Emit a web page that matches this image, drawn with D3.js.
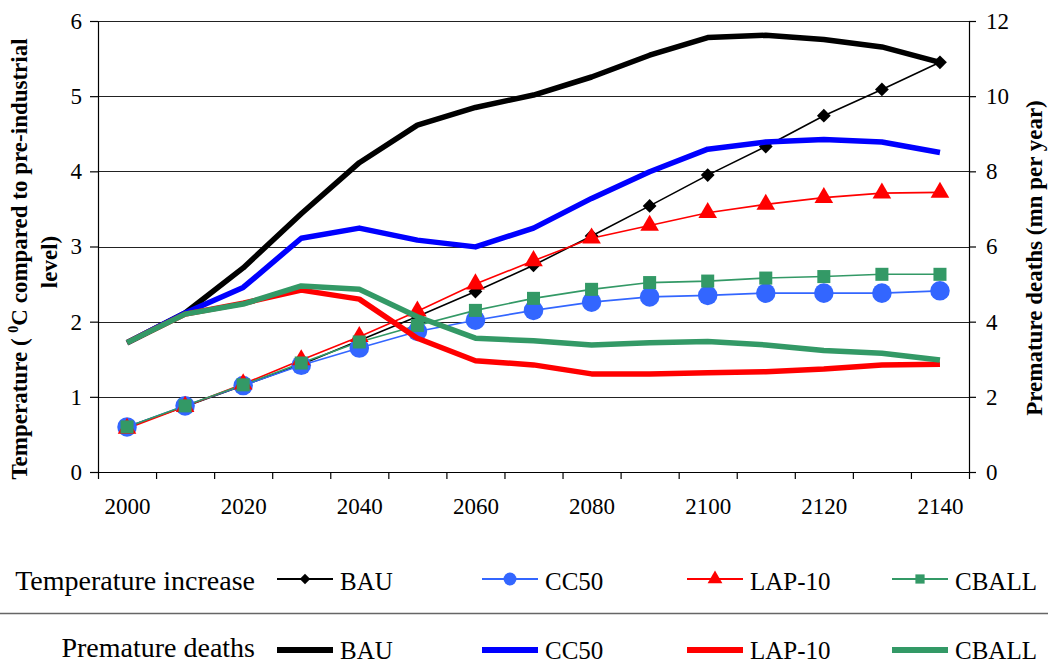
<!DOCTYPE html>
<html>
<head>
<meta charset="utf-8">
<script src="https://cdn.jsdelivr.net/npm/d3@7"></script>
<style>
  html, body { margin: 0; padding: 0; background: #fff; }
  svg { display: block; }
  svg text { font-family: "Liberation Serif", "Times New Roman", serif; fill: #000; }
</style>
</head>
<body>
<svg id="chart" width="1048" height="665"></svg>
<script>
// Years on the category axis
const years = [2000, 2010, 2020, 2030, 2040, 2050, 2060, 2070, 2080, 2090, 2100, 2110, 2120, 2130, 2140];
const yearLabels = [2000, 2020, 2040, 2060, 2080, 2100, 2120, 2140];

// Temperature increase (°C above pre-industrial), left axis
const tempBAU   = [0.60, 0.87, 1.15, 1.43, 1.75, 2.07, 2.40, 2.75, 3.14, 3.54, 3.95, 4.33, 4.74, 5.09, 5.45];
const tempCC50  = [0.60, 0.88, 1.15, 1.42, 1.65, 1.87, 2.02, 2.15, 2.26, 2.33, 2.35, 2.38, 2.38, 2.38, 2.41];
const tempLAP10 = [0.58, 0.87, 1.17, 1.49, 1.80, 2.14, 2.50, 2.81, 3.11, 3.28, 3.45, 3.56, 3.65, 3.71, 3.72];
const tempCBALL = [0.60, 0.88, 1.16, 1.45, 1.73, 1.95, 2.15, 2.31, 2.43, 2.52, 2.54, 2.58, 2.60, 2.63, 2.63];

// Premature deaths (million per year), right axis
const deathsBAU   = [3.44, 4.23, 5.43, 6.87, 8.23, 9.23, 9.70, 10.03, 10.51, 11.09, 11.56, 11.62, 11.51, 11.31, 10.90];
const deathsCC50  = [3.44, 4.23, 4.91, 6.22, 6.49, 6.17, 5.99, 6.49, 7.28, 7.99, 8.59, 8.78, 8.85, 8.78, 8.50];
const deathsLAP10 = [3.44, 4.20, 4.49, 4.84, 4.60, 3.56, 2.96, 2.85, 2.61, 2.61, 2.64, 2.67, 2.74, 2.85, 2.87];
const deathsCBALL = [3.44, 4.20, 4.47, 4.95, 4.86, 4.13, 3.56, 3.49, 3.38, 3.44, 3.47, 3.38, 3.23, 3.16, 2.98];

const leftTicks  = [0, 1, 2, 3, 4, 5, 6];
const rightTicks = [0, 2, 4, 6, 8, 10, 12];

const scenarioNames = ["BAU", "CC50", "LAP-10", "CBALL"];
const thinColors  = ["#000000", "#3366FF", "#FF0000", "#339966"];
const thickColors = ["#000000", "#0000FF", "#FF0000", "#339966"];
// BAU uses a square turned 45 degrees (an even diamond)
const markerShapes = [d3.symbolSquare, d3.symbolCircle, d3.symbolTriangle, d3.symbolSquare];
const markerRotate = [45, 0, 0, 0];
const markerSizes  = [95, 300, 150, 170];
const legendMarkerSizes = [55, 130, 95, 85];

const tempSeries   = [tempBAU, tempCC50, tempLAP10, tempCBALL];
const deathsSeries = [deathsBAU, deathsCC50, deathsLAP10, deathsCBALL];

// Plot frame
const plotLeft = 98, plotRight = 969, plotTop = 21, plotBottom = 472;

const svg = d3.select("#chart");

const x  = d3.scaleLinear().domain([1995, 2145]).range([plotLeft, plotRight]);
const yL = d3.scaleLinear().domain([0, 6]).range([plotBottom, plotTop]);
const yR = d3.scaleLinear().domain([0, 12]).range([plotBottom, plotTop]);

// Horizontal gridlines
svg.append("g")
  .selectAll("line")
  .data(leftTicks.filter(d => d > 0))
  .join("line")
  .attr("x1", plotLeft).attr("x2", plotRight)
  .attr("y1", d => Math.round(yL(d)) + 0.5).attr("y2", d => Math.round(yL(d)) + 0.5)
  .attr("stroke", "#222").attr("stroke-width", 1);

// Axes
const serif = "'Liberation Serif', 'Times New Roman', serif";
const styleAxis = g => {
  g.attr("font-family", serif).attr("font-size", 23);
  g.selectAll("path.domain").attr("stroke", "#000").attr("stroke-width", 1.2);
  g.selectAll(".tick line").attr("stroke", "#000").attr("stroke-width", 1.2);
  g.selectAll("text").style("font-family", serif).style("font-size", "23px").attr("fill", "#000");
};

svg.append("g")
  .attr("transform", `translate(${plotLeft},0)`)
  .call(d3.axisLeft(yL).tickValues(leftTicks).tickFormat(d3.format("d"))
    .tickSize(8).tickPadding(8).tickSizeOuter(0))
  .call(styleAxis);

svg.append("g")
  .attr("transform", `translate(${plotRight},0)`)
  .call(d3.axisRight(yR).tickValues(rightTicks).tickFormat(d3.format("d"))
    .tickSize(7).tickPadding(10).tickSizeOuter(0))
  .call(styleAxis);

// Category boundary ticks
svg.append("g")
  .attr("transform", `translate(0,${plotBottom})`)
  .call(d3.axisBottom(x).tickValues(d3.range(1995, 2146, 10)).tickSize(7).tickFormat("").tickSizeOuter(0))
  .call(styleAxis);

// Year labels
svg.append("g")
  .attr("transform", `translate(0,${plotBottom})`)
  .call(d3.axisBottom(x).tickValues(yearLabels).tickSize(0).tickPadding(26).tickFormat(d3.format("d")))
  .call(g => g.select("path.domain").remove())
  .call(styleAxis);

// Axis titles
const leftTitle = svg.append("g").attr("transform", "translate(27,259) rotate(-90)")
  .append("text")
  .attr("text-anchor", "middle")
  .attr("font-weight", "bold").attr("font-size", 23);
leftTitle.append("tspan").text("Temperature ( ");
leftTitle.append("tspan").attr("font-size", 14).attr("dy", -9).text("0");
leftTitle.append("tspan").attr("dy", 9).text("C compared to pre-industrial");

svg.append("g").attr("transform", "translate(57,262) rotate(-90)")
  .append("text")
  .attr("text-anchor", "middle")
  .attr("font-weight", "bold").attr("font-size", 23)
  .text("level)");

svg.append("g").attr("transform", "translate(1042,258) rotate(-90)")
  .append("text")
  .attr("text-anchor", "middle")
  .attr("font-weight", "bold").attr("font-size", 23)
  .text("Premature deaths (mn per year)");

// Temperature series: thin lines with markers
tempSeries.forEach((vals, i) => {
  const pts = years.map((yr, j) => [x(yr), yL(vals[j])]);
  svg.append("path")
    .attr("d", d3.line()(pts))
    .attr("fill", "none")
    .attr("stroke", thinColors[i])
    .attr("stroke-width", 1.6);
});
tempSeries.forEach((vals, i) => {
  svg.append("g").selectAll("path")
    .data(years.map((yr, j) => [x(yr), yL(vals[j])]))
    .join("path")
    .attr("transform", d => `translate(${d[0]},${d[1]}) rotate(${markerRotate[i]})`)
    .attr("d", d3.symbol().type(markerShapes[i]).size(markerSizes[i]))
    .attr("fill", thinColors[i]);
});

// Premature deaths series: thick lines
deathsSeries.forEach((vals, i) => {
  const pts = years.map((yr, j) => [x(yr), yR(vals[j])]);
  svg.append("path")
    .attr("d", d3.line()(pts))
    .attr("fill", "none")
    .attr("stroke", thickColors[i])
    .attr("stroke-width", 5.5)
    .attr("stroke-linejoin", "round");
});

// Legend
const legendX = [277, 482, 687, 892];
const row1 = 579, row2 = 650;

svg.append("text")
  .attr("x", 255).attr("y", 590)
  .attr("text-anchor", "end").attr("font-size", 28)
  .text("Temperature increase");

svg.append("text")
  .attr("x", 255).attr("y", 657)
  .attr("text-anchor", "end").attr("font-size", 28)
  .text("Premature deaths");

svg.append("line")
  .attr("x1", 0).attr("x2", 1048)
  .attr("y1", 613.5).attr("y2", 613.5)
  .attr("stroke", "#666").attr("stroke-width", 1.5);

scenarioNames.forEach((name, i) => {
  const lx = legendX[i];
  // temperature entry
  svg.append("line")
    .attr("x1", lx).attr("x2", lx + 56)
    .attr("y1", row1).attr("y2", row1)
    .attr("stroke", thinColors[i]).attr("stroke-width", 1.8);
  svg.append("path")
    .attr("transform", `translate(${lx + 28},${row1}) rotate(${markerRotate[i]})`)
    .attr("d", d3.symbol().type(markerShapes[i]).size(legendMarkerSizes[i]))
    .attr("fill", thinColors[i]);
  svg.append("text")
    .attr("x", lx + 63).attr("y", 590)
    .attr("font-size", 25)
    .text(name);
  // deaths entry
  svg.append("line")
    .attr("x1", lx).attr("x2", lx + 56)
    .attr("y1", row2).attr("y2", row2)
    .attr("stroke", thickColors[i]).attr("stroke-width", 6);
  svg.append("text")
    .attr("x", lx + 63).attr("y", 659)
    .attr("font-size", 25)
    .text(name);
});
</script>
</body>
</html>
